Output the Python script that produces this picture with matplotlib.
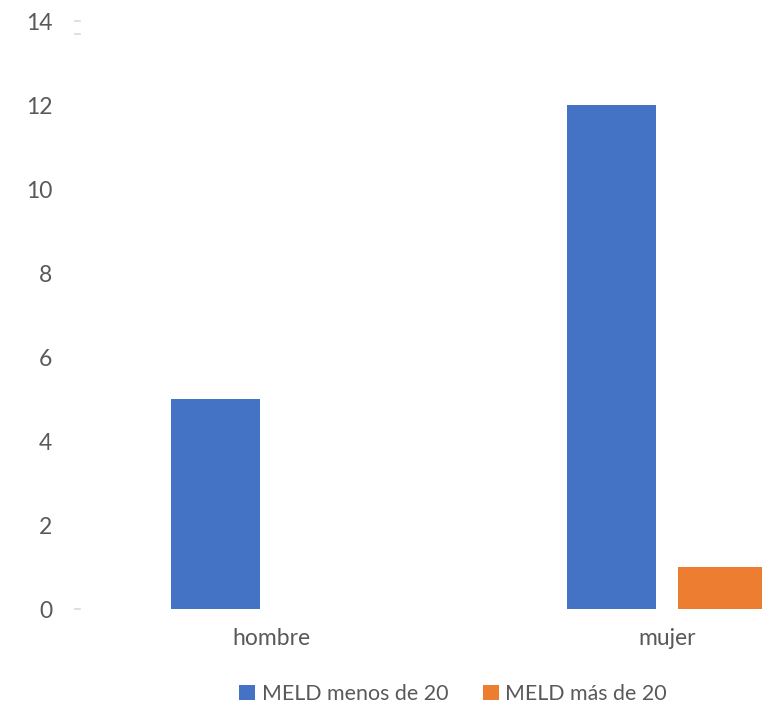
import numpy as np
import matplotlib.pyplot as plt
from matplotlib.transforms import blended_transform_factory

# MELD score by sex
categories = ["hombre", "mujer"]
series_names = ["MELD menos de 20", "MELD más de 20"]
menos_20 = [5, 12]
mas_20 = [0, 1]

blue = "#4472C4"
orange = "#ED7D31"
text_color = "#595959"

plt.rcParams["font.family"] = ["Lato", "DejaVu Sans"]

fig = plt.figure(figsize=(7.62, 7.04), dpi=100)
# plot area runs past the right edge of the figure
ax = fig.add_axes([73 / 762, 95 / 704, 792 / 762, 588 / 704])

x = np.arange(len(categories))
width = 0.225
offset = 0.141
b1 = ax.bar(x - offset, menos_20, width, color=blue, label=series_names[0])
b2 = ax.bar(x + offset, mas_20, width, color=orange, label=series_names[1])

ax.set_xlim(-0.5, 1.5)
ax.set_ylim(0, 14)
ax.set_yticks(range(0, 15, 2))
ax.set_xticks(x)
ax.set_xticklabels(categories)
ax.tick_params(axis="y", length=0, pad=15, labelsize=16.5, labelcolor=text_color)
ax.tick_params(axis="x", length=0, pad=14, labelsize=16.5, labelcolor=text_color)
for s in ax.spines.values():
    s.set_visible(False)

# small faint dashes at the left end of the axis
trans = blended_transform_factory(ax.transAxes, ax.transData)
for yv in [0, 14, 13.7]:
    ax.plot([0.003, 0.009], [yv, yv], color="#d9d9d9", lw=1.2,
            transform=trans, clip_on=False)

fig.legend(handles=[b1, b2], labels=series_names, loc="center",
           bbox_to_anchor=(453 / 762, 1 - 694 / 704), ncol=2, frameon=False,
           fontsize=15.4, labelcolor=text_color, handlelength=0.75,
           handleheight=0.75, handletextpad=0.3, columnspacing=1.6)

fig.savefig("out.png", dpi=100)
